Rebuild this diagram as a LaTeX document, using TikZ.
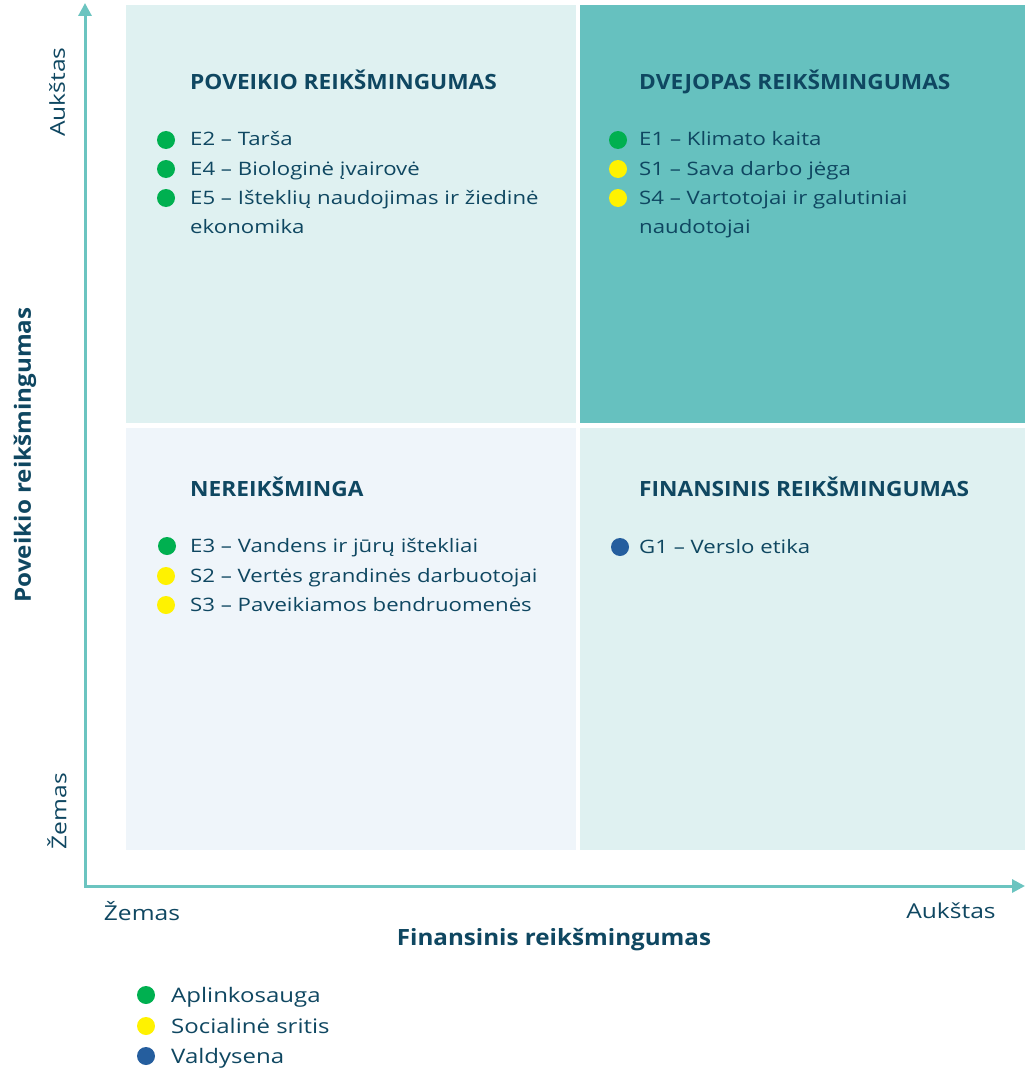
\documentclass[tikz,border=0pt]{standalone}
\usepackage{fontspec}
\setmainfont{Open Sans}[FakeStretch=1.2]
\newfontfamily\headfont{Open Sans}[FakeStretch=1.08]
\usetikzlibrary{arrows.meta}
\definecolor{txt}{HTML}{0F4761}
\definecolor{qlight}{HTML}{DFF1F1}
\definecolor{qdark}{HTML}{66C1BF}
\definecolor{qpale}{HTML}{EFF5FA}
\definecolor{axiscol}{HTML}{6BC4C0}
\definecolor{envc}{HTML}{00B050}
\definecolor{socc}{HTML}{FFF200}
\definecolor{govc}{HTML}{255E9E}
\tikzset{
  head/.style={anchor=base west, inner sep=0pt, text=txt, font=\headfont\fontsize{21}{24}\selectfont\bfseries},
  item/.style={anchor=base west, inner sep=0pt, text=txt, align=left, font=\fontsize{18.5}{29}\selectfont},
  legtext/.style={anchor=base west, inner sep=0pt, text=txt, font=\fontsize{20}{24}\selectfont},
  dot/.style={circle, minimum size=18pt, inner sep=0pt, fill=#1},
  axlabel/.style={inner sep=0pt, text=txt, font=\fontsize{20.5}{24}\selectfont},
  axtitle/.style={inner sep=0pt, text=txt, font=\headfont\fontsize{22.4}{26}\selectfont\bfseries},
  axis/.style={draw=axiscol, line width=3pt, {Triangle[length=13pt,width=13pt]}-{Triangle[length=13pt,width=13pt]}}
}
\begin{document}
\begin{tikzpicture}[x=1pt,y=-1pt]
\useasboundingbox (0,0) rectangle (1025,1070);
% quadrants
\fill[qlight] (126,5) rectangle (576,423);
\fill[qdark] (580,5) rectangle (1025,423);
\fill[qpale] (126,428) rectangle (576,850);
\fill[qlight] (580,428) rectangle (1025,850);
% axes
\coordinate (ytop) at (85,3);
\coordinate (orig) at (85,886);
\coordinate (xend) at (1025,886);
\draw[axis] (ytop) -- (orig) -- (xend);
% top-left
\node[head] (h1) at (190,90) {POVEIKIO REIKŠMINGUMAS};
\node[dot=envc] (d12) at (166,140) {};
\node[item] (t12) at (190,146) {E2 – Tarša};
\node[dot=envc] (d14) at (166,169) {};
\node[item] (t14) at (190,175) {E4 – Biologinė įvairovė};
\node[dot=envc] (d15) at (166,198) {};
\node[item] (t15) at (190,233) {E5 – Išteklių naudojimas ir žiedinė\\ekonomika};
% top-right
\node[head] (h2) at (639,90) {DVEJOPAS REIKŠMINGUMAS};
\node[dot=envc] (d21) at (618,140) {};
\node[item] (t21) at (639,146) {E1 – Klimato kaita};
\node[dot=socc] (d22) at (618,169) {};
\node[item] (t22) at (639,175) {S1 – Sava darbo jėga};
\node[dot=socc] (d24) at (618,198) {};
\node[item] (t24) at (639,233) {S4 – Vartotojai ir galutiniai\\naudotojai};
% bottom-left
\node[head] (h3) at (190,496) {NEREIKŠMINGA};
\node[dot=envc] (d33) at (167,546) {};
\node[item] (t33) at (190,552) {E3 – Vandens ir jūrų ištekliai};
\node[dot=socc] (d32) at (166,576) {};
\node[item] (t32) at (190,582) {S2 – Vertės grandinės darbuotojai};
\node[dot=socc] (d34) at (166,605) {};
\node[item] (t34) at (190,611) {S3 – Paveikiamos bendruomenės};
% bottom-right
\node[head] (h4) at (639,496) {FINANSINIS REIKŠMINGUMAS};
\node[dot=govc] (d41) at (620,547) {};
\node[item] (t41) at (639,553) {G1 – Verslo etika};
% axis labels
\node[axlabel, rotate=90] (yhi) at (57,92) {Aukštas};
\node[axlabel, rotate=90] (ylo) at (57,811) {Žemas};
\node[axtitle, rotate=90] (ytitle) at (25,455) {Poveikio reikšmingumas};
\node[axlabel] (xlo) at (142,911) {Žemas};
\node[axlabel] (xhi) at (951,911) {Aukštas};
\node[axtitle] (xtitle) at (554,940) {Finansinis reikšmingumas};
% legend
\node[dot=envc] (l1) at (146,995) {};
\node[legtext] (lt1) at (171,1002) {Aplinkosauga};
\node[dot=socc] (l2) at (146,1026) {};
\node[legtext] (lt2) at (171,1033) {Socialinė sritis};
\node[dot=govc] (l3) at (146,1056) {};
\node[legtext] (lt3) at (171,1063) {Valdysena};
\end{tikzpicture}
\end{document}
